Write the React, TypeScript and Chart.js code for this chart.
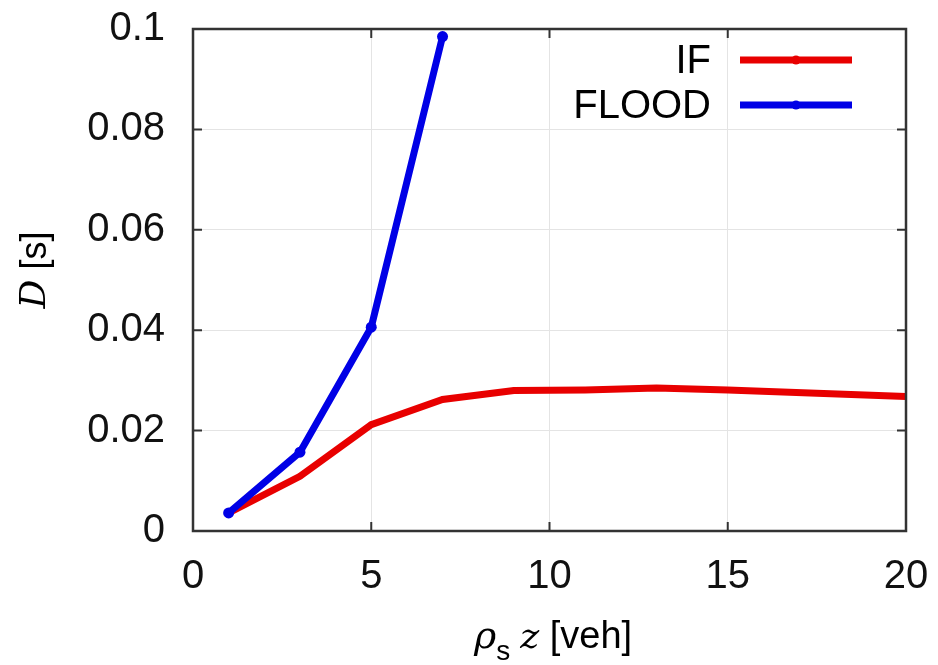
import React, { useEffect, useRef } from "react";
import { Chart, registerables } from "chart.js";

Chart.register(...registerables);

const xIF = [1, 3, 5, 7, 9, 11, 13, 15, 20];
const yIF = [0.0036, 0.0109, 0.0212, 0.0262, 0.0280, 0.0281, 0.0285, 0.0281, 0.0268];
const xFLOOD = [1, 3, 5, 7];
const yFLOOD = [0.0036, 0.0157, 0.0406, 0.0985];
const xTicks = [0, 5, 10, 15, 20];
const yTicks = [0, 0.02, 0.04, 0.06, 0.08, 0.1];
const seriesNames = ["IF", "FLOOD"];
const seriesColors = ["#e80000", "#0000e6"];

const FONT = "'Liberation Sans', Arial, Helvetica, sans-serif";

const decor = {
  id: "decor",
  afterDraw(chart: any) {
    const ctx = chart.ctx;
    const a = chart.chartArea;
    const xs = chart.scales.x;
    const ys = chart.scales.y;
    ctx.save();
    ctx.strokeStyle = "#333";
    ctx.lineWidth = 2;
    const tl = 9;
    xTicks.forEach((v) => {
      const px = xs.getPixelForValue(v);
      ctx.beginPath();
      ctx.moveTo(px, a.bottom);
      ctx.lineTo(px, a.bottom - tl);
      ctx.moveTo(px, a.top);
      ctx.lineTo(px, a.top + tl);
      ctx.stroke();
    });
    yTicks.forEach((v) => {
      const py = ys.getPixelForValue(v);
      ctx.beginPath();
      ctx.moveTo(a.left, py);
      ctx.lineTo(a.left + tl, py);
      ctx.moveTo(a.right, py);
      ctx.lineTo(a.right - tl, py);
      ctx.stroke();
    });
    ctx.lineWidth = 2.5;
    ctx.strokeStyle = "#333";
    ctx.strokeRect(a.left, a.top, a.right - a.left, a.bottom - a.top);

    // legend
    const legY = [60, 105];
    ctx.font = `40px ${FONT}`;
    ctx.textAlign = "right";
    ctx.textBaseline = "middle";
    seriesNames.forEach((n, i) => {
      const y = legY[i];
      ctx.fillStyle = "#000";
      ctx.fillText(n, 711, y + 2);
      ctx.strokeStyle = seriesColors[i];
      ctx.lineWidth = 7;
      ctx.lineCap = "butt";
      ctx.beginPath();
      ctx.moveTo(740, y);
      ctx.lineTo(852, y);
      ctx.stroke();
      ctx.fillStyle = seriesColors[i];
      ctx.beginPath();
      ctx.arc(796, y, 4.5, 0, Math.PI * 2);
      ctx.fill();
    });

    // y title
    ctx.save();
    ctx.translate(36, 270);
    ctx.rotate(-Math.PI / 2);
    ctx.textBaseline = "middle";
    ctx.fillStyle = "#000";
    ctx.font = `italic 36px 'DejaVu Serif', serif`;
    const dW = ctx.measureText("D").width;
    ctx.font = `36px ${FONT}`;
    const restW = ctx.measureText(" [s]").width;
    const sx = -(dW + restW) / 2;
    ctx.textAlign = "left";
    ctx.font = `italic 36px 'DejaVu Serif', serif`;
    ctx.fillText("D", sx, 0);
    ctx.font = `36px ${FONT}`;
    ctx.fillText(" [s]", sx + dW, 0);
    ctx.restore();

    // x title
    const baseY = 648;
    ctx.textAlign = "left";
    ctx.textBaseline = "alphabetic";
    ctx.fillStyle = "#000";
    const parts: [string, string, number][] = [
      ["ρ", `italic 38px 'DejaVu Serif', serif`, 0],
      ["s", `28px ${FONT}`, 12],
      [" ", `36px ${FONT}`, 0],
      ["z", `italic 36px 'DejaVu Serif', serif`, 0],
      [" [veh]", `38px ${FONT}`, 0],
    ];
    let total = 0;
    parts.forEach(([t, f]) => {
      ctx.font = f;
      total += ctx.measureText(t).width;
    });
    let cx = 553 - total / 2;
    parts.forEach(([t, f, dy]) => {
      ctx.font = f;
      ctx.fillText(t, cx, baseY + dy);
      cx += ctx.measureText(t).width;
    });
    ctx.restore();
  },
};

export default function App() {
  const ref = useRef<HTMLCanvasElement>(null);
  useEffect(() => {
    if (!ref.current) return;
    const chart = new Chart(ref.current, {
      type: "line",
      data: {
        datasets: [
          {
            label: seriesNames[0],
            data: xIF.map((x, i) => ({ x, y: yIF[i] })),
            borderColor: seriesColors[0],
            backgroundColor: seriesColors[0],
            borderWidth: 7,
            pointRadius: 3,
            pointBorderWidth: 0,
            tension: 0,
            order: 1,
          },
          {
            label: seriesNames[1],
            data: xFLOOD.map((x, i) => ({ x, y: yFLOOD[i] })),
            borderColor: seriesColors[1],
            backgroundColor: seriesColors[1],
            borderWidth: 7,
            pointRadius: 5.5,
            pointBorderWidth: 0,
            tension: 0,
            order: 0,
          },
        ],
      },
      options: {
        animation: false,
        responsive: false,
        maintainAspectRatio: false,
        layout: { padding: { top: 29, right: 32, left: 0, bottom: 0 } },
        plugins: {
          legend: { display: false },
          tooltip: { enabled: false },
        },
        scales: {
          x: {
            type: "linear",
            min: 0,
            max: 20,
            afterFit: (s: any) => {
              s.height = 134;
              s.paddingLeft = 0;
              s.paddingRight = 0;
            },
            afterBuildTicks: (s: any) => {
              s.ticks = xTicks.map((v) => ({ value: v }));
            },
            border: { display: false },
            grid: { color: "#e4e4e4", lineWidth: 1, drawTicks: false },
            ticks: {
              padding: 22,
              color: "#111",
              font: { family: FONT, size: 40 },
              maxRotation: 0,
              callback: (v: any) => String(v),
            },
          },
          y: {
            type: "linear",
            min: 0,
            max: 0.1,
            afterFit: (s: any) => {
              s.width = 193;
              s.paddingTop = 0;
              s.paddingBottom = 0;
            },
            afterBuildTicks: (s: any) => {
              s.ticks = yTicks.map((v) => ({ value: v }));
            },
            border: { display: false },
            grid: { color: "#e4e4e4", lineWidth: 1, drawTicks: false },
            ticks: {
              padding: 28,
              color: "#111",
              font: { family: FONT, size: 40 },
              callback: (v: any) => String(Math.round(v * 100) / 100),
            },
          },
        },
      },
      plugins: [decor],
    });
    return () => chart.destroy();
  }, []);
  return (
    <div style={{ position: "fixed", left: 0, top: 0, width: 938, height: 665, background: "#fff" }}>
      <canvas ref={ref} width={938} height={665} style={{ display: "block" }} />
    </div>
  );
}
